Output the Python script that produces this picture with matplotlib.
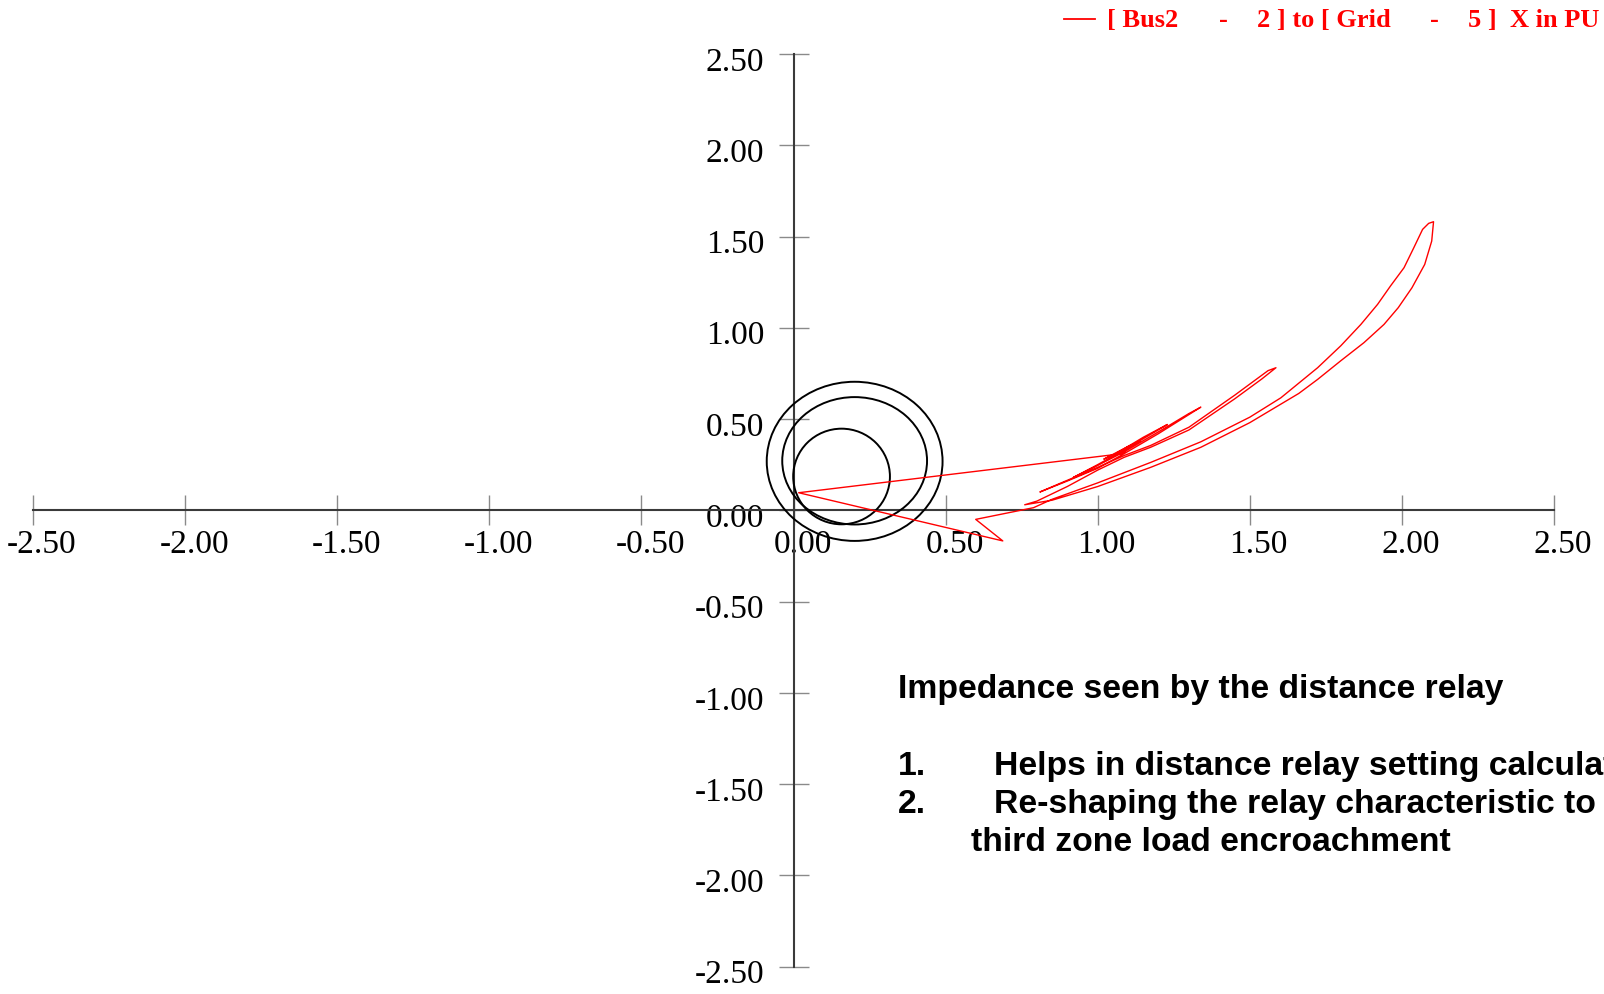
import numpy as np
import matplotlib.pyplot as plt
import matplotlib.transforms as mtransforms
from matplotlib.patches import Ellipse
from matplotlib.lines import Line2D

# mho zone characteristics: centre R, centre X, width, height (PU)
zone_r = [0.158, 0.201, 0.201]
zone_x = [0.185, 0.271, 0.268]
zone_w = [0.318, 0.476, 0.578]
zone_h = [0.524, 0.698, 0.872]

# apparent impedance seen from Bus2 towards Grid (R, X in PU)
traj_r = [1.080, 0.017, 0.688, 0.599, 0.789,
          0.850, 1.000, 1.174, 1.339, 1.500, 1.602, 1.723, 1.799, 1.865, 1.920,
          1.963, 2.007, 2.039, 2.068, 2.088, 2.104,
          2.098, 2.075, 2.033, 1.988, 1.941, 1.875, 1.799, 1.723, 1.661, 1.500,
          1.339, 1.174, 1.000, 0.850, 0.760,
          0.800, 0.900, 1.000, 1.087, 1.174, 1.300, 1.450, 1.540, 1.586,
          1.560, 1.450, 1.300, 1.174, 1.087, 0.980, 0.880, 0.810,
          0.900, 1.000, 1.087, 1.200, 1.339,
          1.300, 1.200, 1.087, 0.970, 0.920,
          1.000, 1.087, 1.229,
          1.150, 1.060, 1.020, 1.100, 1.140, 1.070, 1.090, 1.087]
traj_x = [0.310, 0.096, -0.168, -0.050, 0.014,
          0.060, 0.150, 0.262, 0.375, 0.510, 0.616, 0.781, 0.901, 1.018, 1.128,
          1.230, 1.329, 1.438, 1.539, 1.572, 1.581,
          1.475, 1.347, 1.219, 1.110, 1.018, 0.918, 0.819, 0.717, 0.640, 0.480,
          0.345, 0.235, 0.130, 0.055, 0.030,
          0.050, 0.130, 0.220, 0.290, 0.345, 0.440, 0.610, 0.720, 0.781,
          0.765, 0.630, 0.455, 0.355, 0.300, 0.220, 0.150, 0.100,
          0.160, 0.230, 0.310, 0.420, 0.565,
          0.530, 0.430, 0.320, 0.220, 0.180,
          0.250, 0.330, 0.470,
          0.400, 0.310, 0.280, 0.350, 0.380, 0.310, 0.320, 0.315]

ticks = [-2.5, -2.0, -1.5, -1.0, -0.5, 0.0, 0.5, 1.0, 1.5, 2.0, 2.5]
tick_labels = ["-2.50", "-2.00", "-1.50", "-1.00", "-0.50", "0.00",
               "0.50", "1.00", "1.50", "2.00", "2.50"]

W, H = 1604, 995
fig = plt.figure(figsize=(W / 100, H / 100), dpi=100)
ax = fig.add_axes([33 / W, 1 - 967.5 / H, 1521 / W, 912.5 / H])
ax.set_xlim(-2.5, 2.5)
ax.set_ylim(-2.5, 2.5)

for s in ["top", "right"]:
    ax.spines[s].set_visible(False)
for s in ["left", "bottom"]:
    ax.spines[s].set_position(("data", 0))
    ax.spines[s].set_color("#3a3a3a")
    ax.spines[s].set_linewidth(1.5)

ax.set_xticks(ticks)
ax.set_yticks(ticks)
ax.set_xticklabels(tick_labels)
ax.set_yticklabels(tick_labels)
ax.tick_params(direction="inout", length=22, width=1.0, color="#8a8a8a",
               labelsize=24)
ax.tick_params(axis="x", pad=2)
ax.tick_params(axis="y", pad=10)
for lab in ax.get_xticklabels() + ax.get_yticklabels():
    lab.set_fontfamily("Liberation Serif")
dx = mtransforms.ScaledTranslation(0.09, 0, fig.dpi_scale_trans)
for lab in ax.get_xticklabels():
    lab.set_transform(lab.get_transform() + dx)
dy = mtransforms.ScaledTranslation(0, -0.04, fig.dpi_scale_trans)
for lab in ax.get_yticklabels():
    lab.set_transform(lab.get_transform() + dy)

for cr, cx, w, h in zip(zone_r, zone_x, zone_w, zone_h):
    ax.add_patch(Ellipse((cr, cx), w, h, fill=False, edgecolor="black",
                         linewidth=1.4, zorder=3))

ax.plot(traj_r, traj_x, color="red", linewidth=1.0, zorder=4)

# legend entry at the top right
fig.add_artist(Line2D([1064 / W, 1095 / W], [1 - 19.5 / H, 1 - 19.5 / H],
                      color="red", linewidth=1.3))
leg_parts = [("[ Bus2", 1107), ("-", 1219), ("2 ] to [ Grid", 1257),
             ("-", 1430), ("5 ]  X in PU", 1468)]
for txt, px in leg_parts:
    fig.text(px / W, 1 - 20 / H, txt, color="red", fontsize=19,
             fontweight="bold", fontfamily="Liberation Serif", va="center")

notes = [("Impedance seen by the distance relay", 898, 698),
         ("1.", 898, 775),
         ("Helps in distance relay setting calculations", 994, 775),
         ("2.", 898, 813),
         ("Re-shaping the relay characteristic to", 994, 813),
         ("third zone load encroachment", 971, 851)]
for txt, px, py in notes:
    fig.text(px / W, 1 - py / H, txt, fontsize=24.3, fontweight="bold",
             fontfamily="Liberation Sans", va="baseline", color="black")

fig.savefig("out.png", dpi=100)
